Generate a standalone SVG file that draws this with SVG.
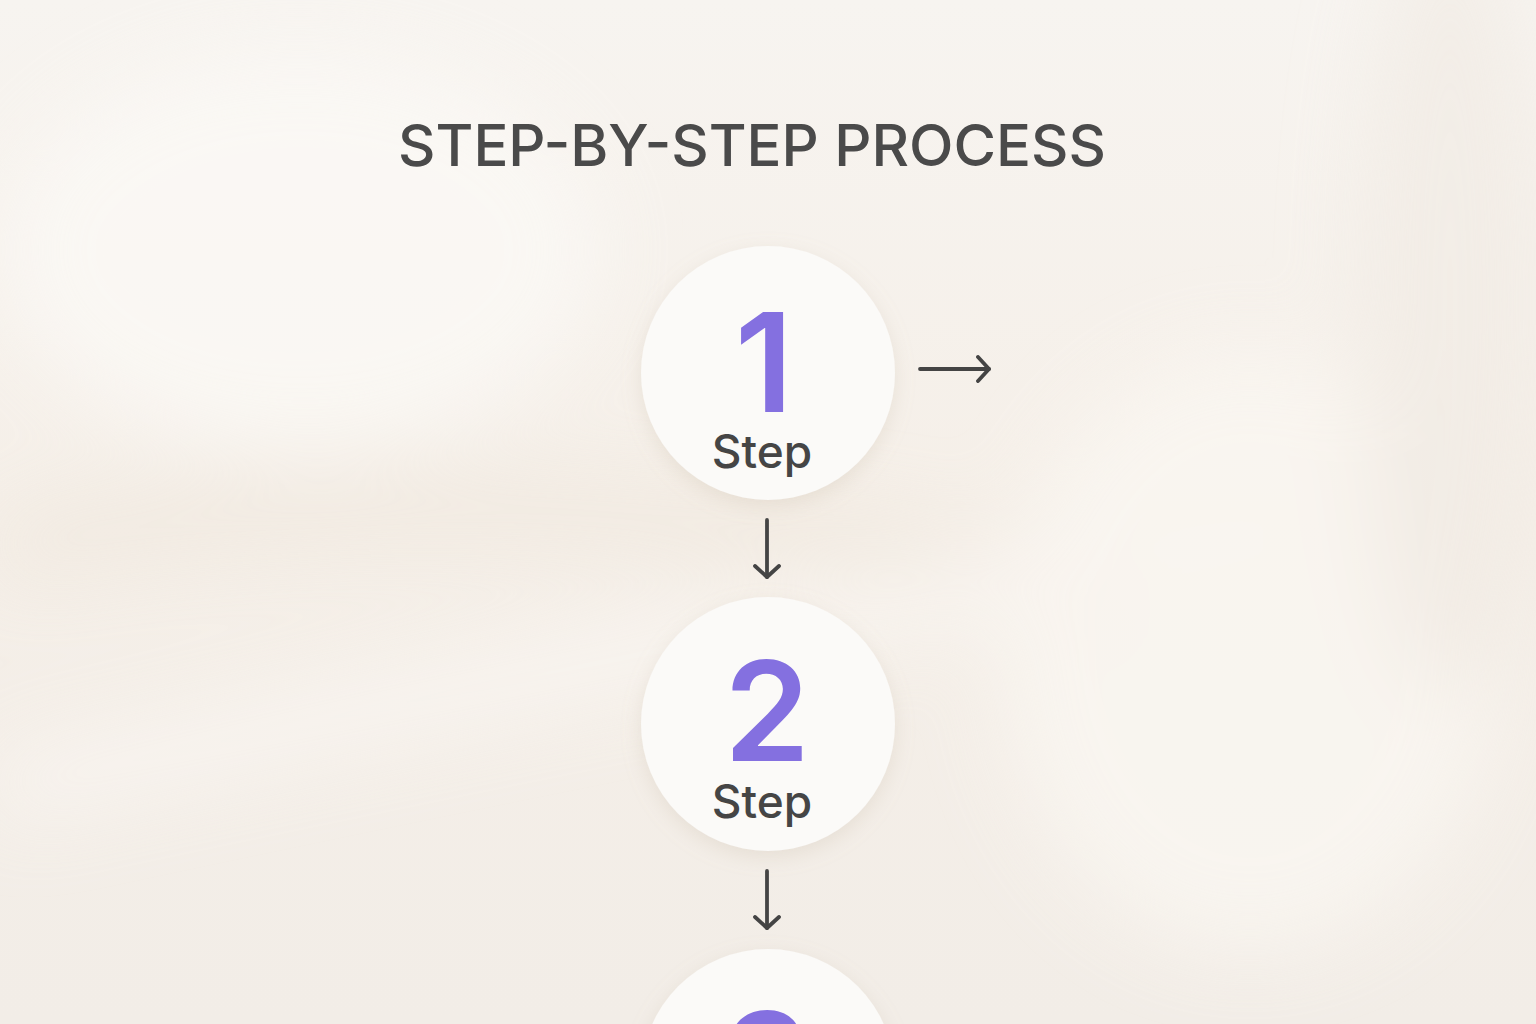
<svg xmlns="http://www.w3.org/2000/svg" width="1536" height="1024" viewBox="0 0 1536 1024">
  <defs>
    <linearGradient id="bg" x1="0" y1="0" x2="0" y2="1">
      <stop offset="0" stop-color="#f7f4f0"/>
      <stop offset="0.5" stop-color="#f5efe8"/>
      <stop offset="1" stop-color="#f2ede7"/>
    </linearGradient>
    <filter id="blur" x="-50%" y="-50%" width="200%" height="200%">
      <feGaussianBlur stdDeviation="40"/>
    </filter>
    <filter id="shadow" x="-30%" y="-30%" width="160%" height="160%">
      <feDropShadow dx="0" dy="6" stdDeviation="10" flood-color="#b8a890" flood-opacity="0.22"/>
    </filter>
    <marker id="arrow" viewBox="0 0 16 28" refX="13" refY="14" markerWidth="16" markerHeight="28" markerUnits="userSpaceOnUse" orient="auto">
      <path d="M2,2 L13,14 L2,26" fill="none" stroke="#444" stroke-width="3.8" stroke-linecap="round" stroke-linejoin="round"/>
    </marker>
    <style>
      .title { font-family: Inter, "Liberation Sans", sans-serif; font-size: 58px; font-weight: 500; fill: #4a4a4a; letter-spacing: 0px; }
      .num { font-family: Inter, "Liberation Sans", sans-serif; font-size: 138px; font-weight: 600; fill: #8470e0; }
      .lbl { font-family: Inter, "Liberation Sans", sans-serif; font-size: 46px; font-weight: 500; fill: #454545; }
      .node { fill: #fbfaf8; filter: url(#shadow); }
      .conn { stroke: #444; stroke-width: 3.8; stroke-linecap: round; fill: none; }
    </style>
  </defs>
  <rect width="1536" height="1024" fill="url(#bg)"/>
  <g filter="url(#blur)" opacity="0.7">
    <ellipse cx="300" cy="250" rx="300" ry="200" fill="#fcfaf7"/>
    <ellipse cx="1250" cy="650" rx="250" ry="300" fill="#fbf8f3"/>
    <path d="M0,520 Q500,420 1100,560 L1100,620 Q500,480 0,580 Z" fill="#efe7dd"/>
    <path d="M0,760 Q600,620 1300,500 L1300,560 Q600,690 0,820 Z" fill="#fbf8f4"/>
    <ellipse cx="1450" cy="300" rx="90" ry="400" fill="#f1ebe4"/>
  </g>
  <text class="title" x="752" y="166" text-anchor="middle">STEP-BY-STEP PROCESS</text>
  <g id="connectors">
    <line class="conn" x1="920" y1="369" x2="989" y2="369" marker-end="url(#arrow)"/>
    <line class="conn" x1="767" y1="520" x2="767" y2="577" marker-end="url(#arrow)"/>
    <line class="conn" x1="767" y1="871" x2="767" y2="928" marker-end="url(#arrow)"/>
  </g>
  <g id="step1">
    <circle class="node" cx="768" cy="373" r="127"/>
    <text class="num" x="764" y="412" text-anchor="middle">1</text>
    <text class="lbl" x="762" y="468" text-anchor="middle">Step</text>
  </g>
  <g id="step2">
    <circle class="node" cx="768" cy="724" r="127"/>
    <text class="num" x="767" y="761" text-anchor="middle">2</text>
    <text class="lbl" x="762" y="818" text-anchor="middle">Step</text>
  </g>
  <g id="step3">
    <circle class="node" cx="768" cy="1076" r="127"/>
    <text class="num" x="767" y="1112" text-anchor="middle">3</text>
  </g>
</svg>
